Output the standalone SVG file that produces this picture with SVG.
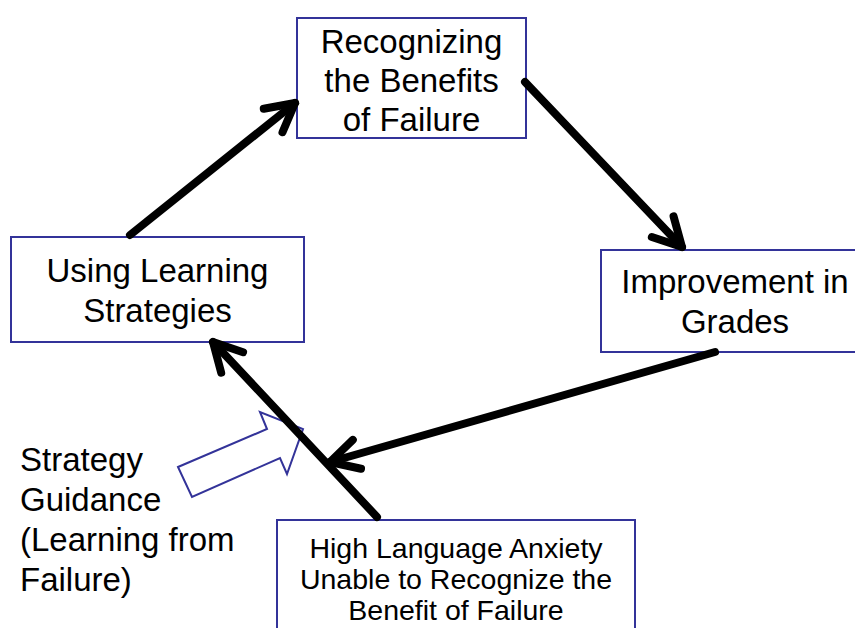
<svg xmlns="http://www.w3.org/2000/svg" width="855" height="628" viewBox="0 0 855 628">
<style>
.box{fill:#fff;stroke:#333399;stroke-width:2}
.t{font-family:"Liberation Sans",Arial,sans-serif;font-size:33px;fill:#000;text-anchor:middle}
.ts{font-family:"Liberation Sans",Arial,sans-serif;font-size:28.5px;fill:#000;text-anchor:middle}
.tl{font-family:"Liberation Sans",Arial,sans-serif;font-size:33px;fill:#000}
.c{fill:none;stroke:#000;stroke-width:8;stroke-linecap:round}
.hollow{fill:#fff;stroke:#333399;stroke-width:2;stroke-linejoin:miter}
</style>
<defs>
<marker id="ah" markerUnits="userSpaceOnUse" orient="auto" refX="0" refY="0" markerWidth="10" markerHeight="10" overflow="visible">
<path d="M-28,-15 L0,0 L-28,15" fill="none" stroke="#000" stroke-width="8" stroke-linecap="round" stroke-linejoin="round"/>
</marker>
</defs>
<rect width="855" height="628" fill="#fff"/>
<g id="recognizing">
<rect class="box" x="297" y="18" width="229" height="120"/>
<text class="t" x="411.5" y="53">Recognizing</text>
<text class="t" x="411.5" y="92">the Benefits</text>
<text class="t" x="411.5" y="131">of Failure</text>
</g>
<g id="using">
<rect class="box" x="11" y="237" width="293" height="105"/>
<text class="t" x="157.5" y="282">Using Learning</text>
<text class="t" x="157.5" y="322">Strategies</text>
</g>
<g id="improvement">
<rect class="box" x="601" y="250" width="268" height="102"/>
<text class="t" x="735" y="293">Improvement in</text>
<text class="t" x="735" y="333">Grades</text>
</g>
<g id="anxiety">
<rect class="box" x="277" y="520" width="358" height="120"/>
<text class="ts" x="456" y="558">High Language Anxiety</text>
<text class="ts" x="456" y="589">Unable to Recognize the</text>
<text class="ts" x="456" y="620">Benefit of Failure</text>
</g>
<g id="guidance">
<polygon class="hollow" points="178,467 267,429 260,412 303,429 287,474 280,458 192,497"/>
<text class="tl" x="20" y="471">Strategy</text>
<text class="tl" x="20" y="511">Guidance</text>
<text class="tl" x="20" y="551">(Learning from</text>
<text class="tl" x="20" y="591">Failure)</text>
</g>
<g id="connectors">
<line class="c" x1="130" y1="235" x2="295" y2="103" marker-end="url(#ah)"/>
<line class="c" x1="525" y1="82" x2="682" y2="247" marker-end="url(#ah)"/>
<line class="c" x1="715" y1="352" x2="330" y2="462" marker-end="url(#ah)"/>
<line class="c" x1="377" y1="517" x2="213" y2="342" marker-end="url(#ah)"/>
</g>
</svg>
